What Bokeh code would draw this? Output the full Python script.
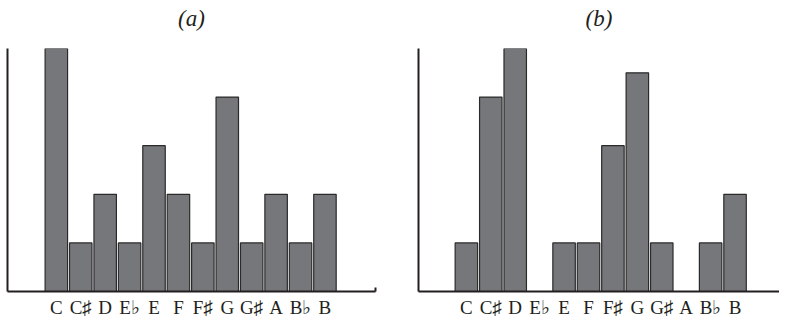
import numpy as np
from bokeh.plotting import figure
from bokeh.layouts import row
from bokeh.models import Range1d, FixedTicker, Title
from bokeh.embed import file_html
from bokeh.resources import INLINE

notes = ["C", "C\u266f", "D", "E\u266d", "E", "F", "F\u266f", "G", "G\u266f", "A", "B\u266d", "B"]
values_a = [5, 1, 2, 1, 3, 2, 1, 4, 1, 2, 1, 2]
values_b = [1, 4, 5, 0, 1, 1, 3, 4.5, 1, 0, 1, 2]
titles = ["(a)", "(b)"]

FILL = "#76777a"
EDGE = "#2a2a2a"
INK = "#231f20"
FONT = "Liberation Serif"


def panel(vals, title, xr, left_border, right_border, end_tick):
    idx = np.arange(len(notes))
    p = figure(output_backend="svg", toolbar_location=None,
               frame_width=int(round((xr[1] - xr[0]) * 24.45)), frame_height=243,
               x_range=Range1d(*xr), y_range=Range1d(0, 5.0),
               min_border_left=left_border, min_border_right=right_border,
               min_border_top=0, min_border_bottom=0)
    # spacer between the title and the plot frame
    p.add_layout(Title(text=" ", text_font_size="2px", standoff=10), "above")
    p.title = Title(text=title, align="center", text_font=FONT, text_font_size="23px",
                    text_font_style="italic", text_color=INK, standoff=7)
    p.vbar(x=idx, top=vals, width=0.92, bottom=0, fill_color=FILL, line_color=EDGE, line_width=1.2)
    p.grid.visible = False
    p.outline_line_color = None
    p.background_fill_color = "white"
    p.border_fill_color = "white"
    # x axis
    ticker = FixedTicker(ticks=list(idx), minor_ticks=[xr[1]] if end_tick else [])
    p.xaxis.ticker = ticker
    p.xaxis.major_label_overrides = {int(i): n for i, n in zip(idx, notes)}
    p.xaxis.major_tick_line_color = None
    p.xaxis.major_tick_out = 0
    p.xaxis.major_tick_in = 0
    p.xaxis.minor_tick_in = 4
    p.xaxis.minor_tick_out = 0
    p.xaxis.minor_tick_line_width = 2
    p.xaxis.minor_tick_line_color = INK
    p.xaxis.axis_line_width = 2
    p.xaxis.axis_line_color = INK
    p.xaxis.major_label_text_font = FONT
    p.xaxis.major_label_text_font_size = "19px"
    p.xaxis.major_label_text_color = INK
    p.xaxis.major_label_standoff = 5
    # y axis
    p.yaxis.ticker = FixedTicker(ticks=[])
    p.yaxis.major_tick_line_color = None
    p.yaxis.minor_tick_line_color = None
    p.yaxis.major_label_text_font_size = "0px"
    p.yaxis.major_label_standoff = 0
    p.yaxis.major_tick_out = 0
    p.yaxis.axis_line_width = 2
    p.yaxis.axis_line_color = INK
    return p


pa = panel(values_a, titles[0], (-2.0, 13.07), 7, 16, True)
pb = panel(values_b, titles[1], (-1.96, 12.82), 27, 0, False)

layout = row(pa, pb, spacing=0)
open("out.html", "w").write(file_html(layout, INLINE))
